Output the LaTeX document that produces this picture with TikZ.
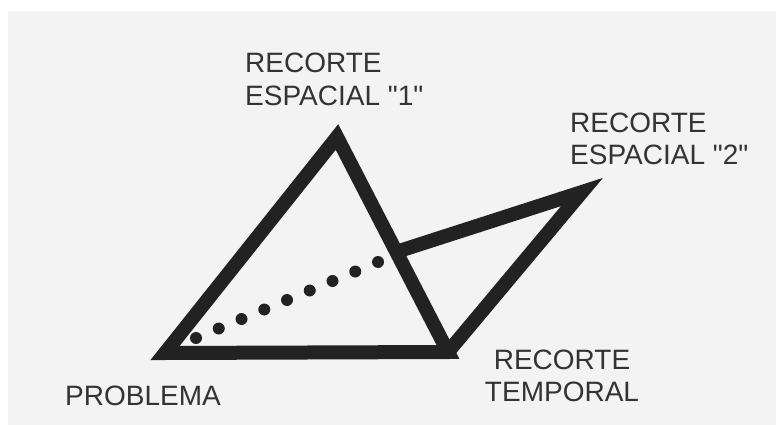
\documentclass[tikz,border=0pt]{standalone}
\usepackage{fontspec}
\setmainfont{Liberation Sans}[Ligatures=TeXOff]
\usetikzlibrary{calc}
\definecolor{bg}{HTML}{F3F3F3}
\definecolor{ink}{HTML}{222222}
\definecolor{txt}{HTML}{333333}
\begin{document}
\begin{tikzpicture}[x=1pt,y=-1pt,
  edge/.style={draw=ink,line width=14pt,line join=miter,miter limit=20},
  lbl/.style={text=txt,font=\fontsize{28}{32.5}\selectfont,inner sep=0pt},
  dotnode/.style={circle,fill=ink,minimum size=12pt,inner sep=0pt}]
\useasboundingbox (0,0) rectangle (776,425);
\fill[bg] (8,11) rectangle (776,425);
\coordinate (P) at (165,353);
\coordinate (S1) at (337,137);
\coordinate (T) at (448,352);
\coordinate (J) at (396,252);
\coordinate (S2) at (582,192);
\draw[edge] (P) -- (S1) -- (T) -- cycle;
\draw[edge] (J) -- (S2) -- (T);
\foreach \i in {0,...,8}
  \node[dotnode] (d\i) at ($(196,338)!\i/8!(378,262)$) {};
\node[lbl,anchor=base west,align=left] (l1) at (245,105.5) {RECORTE\\ESPACIAL "1"};
\node[lbl,anchor=base west,align=left] (l2) at (570,164.5) {RECORTE\\ESPACIAL "2"};
\node[lbl,anchor=base west] (l3) at (65,405) {PROBLEMA};
\node[lbl,anchor=base,align=center] (l4) at (562,401.5) {RECORTE\\TEMPORAL};
\end{tikzpicture}
\end{document}
